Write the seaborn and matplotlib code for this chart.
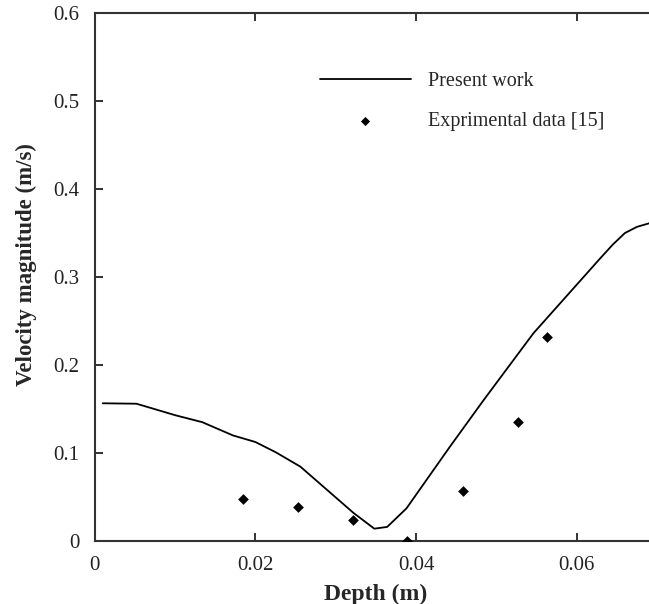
import matplotlib
matplotlib.use("Agg")
import matplotlib.pyplot as plt
import seaborn as sns

# Simulated velocity profile (present work)
depth_line = [0.001, 0.0052, 0.010, 0.0134, 0.0172, 0.020, 0.0225, 0.0256,
              0.0322, 0.0348, 0.0364, 0.0388, 0.0442, 0.0484, 0.0546,
              0.0629, 0.0645, 0.0660, 0.0675, 0.0690, 0.0700]
velocity_line = [0.1565, 0.156, 0.143, 0.135, 0.120, 0.1125, 0.101, 0.0845,
                 0.032, 0.014, 0.016, 0.037, 0.107, 0.160, 0.236,
                 0.321, 0.337, 0.350, 0.357, 0.361, 0.362]

# Experimental measurements [15]
depth_exp = [0.0185, 0.0253, 0.0321, 0.0389, 0.0458, 0.0527, 0.0563]
velocity_exp = [0.0474, 0.039, 0.0239, 0.0, 0.0568, 0.1356, 0.2315]

x_ticks = [0, 0.02, 0.04, 0.06]
x_tick_labels = ["0", "0.02", "0.04", "0.06"]
y_ticks = [0, 0.1, 0.2, 0.3, 0.4, 0.5, 0.6]
y_tick_labels = ["0", "0.1", "0.2", "0.3", "0.4", "0.5", "0.6"]

sns.set_theme(style="ticks")
plt.rcParams["font.family"] = ["Liberation Serif", "DejaVu Serif"]

W, H = 649, 604
fig = plt.figure(figsize=(W / 100, H / 100), dpi=100)
ax = fig.add_axes([94.7 / W, 63 / H, (657.1 - 94.7) / W, 528 / H])

sns.lineplot(x=depth_line, y=velocity_line, ax=ax, color="black",
             linewidth=1.3, label="Present work", errorbar=None)
sns.scatterplot(x=depth_exp, y=velocity_exp, ax=ax, marker="D", s=30,
                color="black", edgecolor="black", linewidth=0,
                label="Exprimental data [15]", zorder=3)

ax.set_xlim(0, 0.07)
ax.set_ylim(0, 0.6)
ax.set_xticks(x_ticks)
ax.set_xticklabels(x_tick_labels)
ax.set_yticks(y_ticks)
ax.set_yticklabels(y_tick_labels)

ax.tick_params(direction="in", length=6, width=1.3, color="#222222",
               top=True, right=True, labelsize=15, pad=11,
               labelcolor="#222222")
for side in ["left", "bottom", "top", "right"]:
    ax.spines[side].set_color("#333333")
    ax.spines[side].set_linewidth(1.5)

ax.set_xlabel("Depth (m)", fontsize=17, fontweight="bold", labelpad=6)
ax.set_ylabel("Velocity magnitude (m/s)", fontsize=16.5, fontweight="bold")
ax.yaxis.set_label_coords(-0.103, 0.5227)

leg = ax.legend(loc="upper left", bbox_to_anchor=(320 / W, 1 - 72 / H),
                bbox_transform=fig.transFigure, frameon=False, fontsize=14.5,
                handlelength=4.5, handletextpad=0.85, labelspacing=1.03,
                borderpad=0, borderaxespad=0, markerscale=0.85)

fig.savefig("out.png", dpi=100)
